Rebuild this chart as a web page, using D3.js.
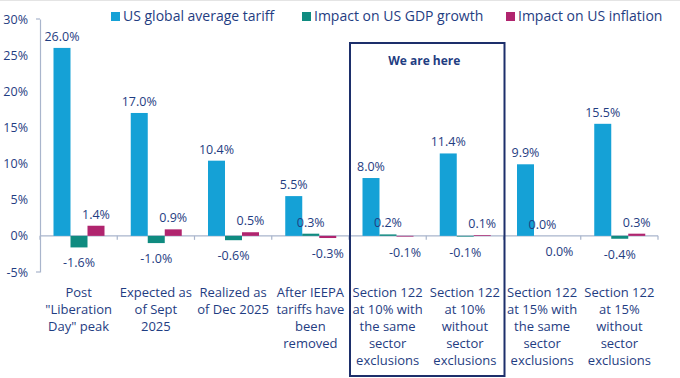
<!DOCTYPE html>
<html><head><meta charset="utf-8">
<script src="https://cdn.jsdelivr.net/npm/d3@7/dist/d3.min.js"></script>
<style>
body{margin:0;background:#fff;}
svg text{font-family:"Open Sans",sans-serif;fill:#1f3d82;}
</style></head>
<body><svg id="c" width="680" height="378"></svg>
<script>
const categories = [
  ["Post", "\"Liberation", "Day\" peak"],
  ["Expected as", "of Sept", "2025"],
  ["Realized as", "of Dec 2025"],
  ["After IEEPA", "tariffs have", "been", "removed"],
  ["Section 122", "at 10% with", "the same", "sector", "exclusions"],
  ["Section 122", "at 10%", "without", "sector", "exclusions"],
  ["Section 122", "at 15% with", "the same", "sector", "exclusions"],
  ["Section 122", "at 15%", "without", "sector", "exclusions"]
];
const seriesNames = ["US global average tariff", "Impact on US GDP growth", "Impact on US inflation"];
const tariff = [26.0, 17.0, 10.4, 5.5, 8.0, 11.4, 9.9, 15.5];
const gdp = [-1.6, -1.0, -0.6, 0.3, 0.2, -0.1, 0.0, -0.4];
const inflation = [1.4, 0.9, 0.5, -0.3, -0.1, 0.1, -0.0, 0.3];
const yTicks = [-5, 0, 5, 10, 15, 20, 25, 30];
const colors = ["#15a1d6", "#0f8b80", "#b0246e"];
const highlightRange = [4, 5];
const highlightLabel = "We are here";

const svg = d3.select("#c");
const navy = "#1f3d82";
const axisCol = "#a9b5cc";

svg.append("line").attr("x1",0).attr("x2",680).attr("y1",0.5).attr("y2",0.5).attr("stroke","#e4e4e4");

const y = d3.scaleLinear().domain([-5, 30]).range([272, 19]);
const x = d3.scaleBand().domain(d3.range(categories.length)).range([40, 658]).padding(0);
const xs = d3.scaleBand().domain([0,1,2]).range([13.5, 64.5]).padding(0);

// y axis
const yAxis = svg.append("g").attr("transform","translate(40,0)")
  .call(d3.axisLeft(y).tickValues(yTicks).tickFormat(d => d + "%").tickSize(0).tickPadding(12));
yAxis.select(".domain").attr("stroke", axisCol).attr("stroke-width",1.2);
yAxis.selectAll("text").attr("font-size","12.5px").attr("fill",navy).style("fill",navy).style("font-family","'Open Sans',sans-serif");
[y(30), y(-5)].forEach(v => svg.append("line").attr("x1",36).attr("x2",40).attr("y1",v).attr("y2",v).attr("stroke",axisCol).attr("stroke-width",1.2));

// x axis at zero
svg.append("line").attr("x1",40).attr("x2",658).attr("y1",y(0)).attr("y2",y(0)).attr("stroke",axisCol).attr("stroke-width",1.2);
d3.range(categories.length + 1).forEach(i => {
  const xx = i < categories.length ? x(i) : x(categories.length-1) + x.bandwidth();
  svg.append("line").attr("x1",xx).attr("x2",xx).attr("y1",y(0)).attr("y2",y(0)+4).attr("stroke",axisCol).attr("stroke-width",1.2);
});

// highlight box
const bx0 = x(highlightRange[0]) + 1, bx1 = x(highlightRange[1]) + x.bandwidth() + 1;
svg.append("rect").attr("x",bx0).attr("y",43).attr("width",bx1-bx0).attr("height",333)
  .attr("fill","none").attr("stroke","#1d2f6b").attr("stroke-width",2);
svg.append("text").attr("x",(bx0+bx1)/2 - 3).attr("y",65).attr("text-anchor","middle")
  .attr("font-size","12px").attr("font-weight","bold").text(highlightLabel);

// bars
const series = [tariff, gdp, inflation];
series.forEach((vals, s) => {
  vals.forEach((v, i) => {
    const bx = x(i) + xs(s);
    const top = y(Math.max(0, v)), bot = y(Math.min(0, v));
    svg.append("rect").attr("x", bx).attr("y", top).attr("width", xs.bandwidth())
      .attr("height", Math.max(bot - top, 0)).attr("fill", colors[s]);
    const below = v < 0 || (s === 2 && Object.is(v, -0));
    const ly = below ? y(Math.min(0, v)) + 20 : y(Math.max(0, v)) - 7;
    svg.append("text").attr("x", bx + xs.bandwidth()/2).attr("y", ly)
      .attr("text-anchor","middle").attr("font-size","12.5px").text(v.toFixed(1) + "%");
  });
});

// category labels
categories.forEach((lines, i) => {
  const t = svg.append("text").attr("text-anchor","middle").attr("font-size","13px");
  lines.forEach((l, k) => {
    t.append("tspan").attr("x", x(i) + x.bandwidth()/2).attr("y", 297 + k*17).text(l);
  });
});

// legend
const legendX = [111, 302, 506];
seriesNames.forEach((n, s) => {
  svg.append("rect").attr("x", legendX[s]).attr("y", 12).attr("width", 9).attr("height", 9).attr("fill", colors[s]);
  svg.append("text").attr("x", legendX[s] + 12).attr("y", 21).attr("font-size","14px").text(n);
});
</script></body></html>
